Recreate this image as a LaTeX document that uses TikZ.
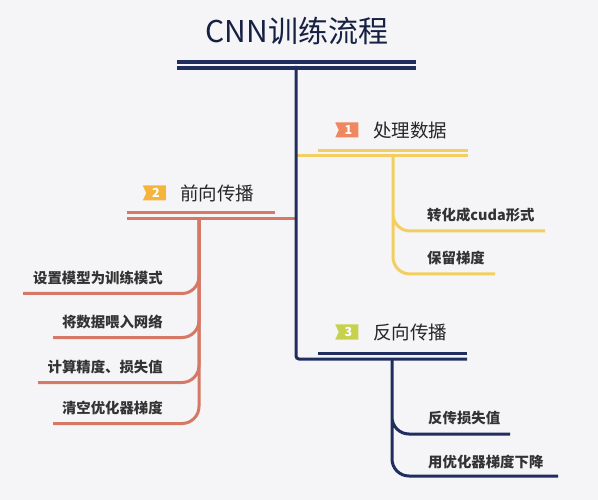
\documentclass[tikz,border=0pt]{standalone}
\usepackage{fontspec}
\setmainfont{Noto Sans CJK SC}
\tikzset{>=latex}
\usetikzlibrary{shapes.symbols}
\definecolor{grund}{HTML}{F5F5F7}
\definecolor{navy}{HTML}{1F2E5E}
\definecolor{gelb}{HTML}{F2CF60}
\definecolor{rot}{HTML}{D67866}
\definecolor{nrA}{HTML}{F0875E}
\definecolor{nrB}{HTML}{F5B53C}
\definecolor{nrC}{HTML}{C6D24E}
\definecolor{schrift}{HTML}{333333}

\begin{document}
\begin{tikzpicture}[x=1pt,y=-1pt,
	ast/.style={line width=3pt},
	haupt/.style={font=\fontsize{18.5}{20}\selectfont,text=black!85,inner sep=0pt,anchor=west},
	punkt/.style={font=\bfseries\fontsize{14.4}{16}\selectfont,text=schrift,inner sep=0pt},
	marke/.style={signal,signal from=west,signal to=nowhere,signal pointer angle=130,
		minimum width=23pt,minimum height=15pt,inner sep=0pt,text=white,
		font=\bfseries\fontsize{12.5}{13}\selectfont}]
	\fill[grund] (0,0) rectangle (598,500);
	\useasboundingbox (0,0) rectangle (598,500);
	% titel
	\node (titel) at(297,31)[font=\fontsize{30}{32}\selectfont,text=navy!70!black]{CNN训练流程};
	\coordinate (tl) at(177,62); \coordinate (tr) at(416,62);
	\draw[navy,line width=3.5pt] (tl)--(tr) ([yshift=-6pt]tl)--([yshift=-6pt]tr);
	\coordinate (wurzel) at(296,66);
	% 1 verarbeiten
	\node (m1) at(348.5,130)[marke,fill=nrA]{1};
	\node (h1) at(373,130)[haupt]{处理数据};
	\coordinate (a1) at(296,156); \coordinate (a1r) at(468,156); \coordinate (a1l) at(318,151);
	\draw[gelb,ast] (a1)--(a1r) (a1l)--(a1r|-a1l);
	\coordinate (s1) at(393,156);
	\node (p11) at(427,215)[punkt,anchor=west]{转化成cuda形式};
	\node (p12) at(427,258)[punkt,anchor=west]{保留梯度};
	\coordinate (u11) at(545,231); \coordinate (u12) at(495,274);
	\draw[gelb,ast,rounded corners=17] (s1)|-(u11) (s1)|-(u12);
	% 2 vorwaerts
	\node (m2) at(156,193)[marke,fill=nrB]{2};
	\node (h2) at(180,193)[haupt]{前向传播};
	\coordinate (a2) at(296,219); \coordinate (a2l) at(127,219); \coordinate (a2o) at(275,213);
	\draw[rot,ast] (a2)--(a2l) (a2l|-a2o)--(a2o);
	\coordinate (s2) at(199,219);
	\foreach \t/\y/\x [count=\i] in {设置模型为训练模式/278/23,将数据喂入网络/322/53,计算精度、损失值/367/38,清空优化器梯度/408/53}{
		\node (p2\i) at(163,\y)[punkt,anchor=east]{\t};
		\coordinate (u2\i) at(\x,\y+15.5);
		\draw[rot,ast,rounded corners=17] (s2)|-(u2\i);
	}
	% 3 rueckwaerts
	\node (m3) at(348.5,332)[marke,fill=nrC]{3};
	\node (h3) at(373,332)[haupt]{反向传播};
	\coordinate (a3r) at(467,359); \coordinate (a3l) at(318,353.5);
	\draw[navy,ast,rounded corners=3] (wurzel)|-(a3r);
	\draw[navy,ast] (a3l)--(a3r|-a3l);
	\coordinate (s3) at(392,359);
	\node (p31) at(428,418)[punkt,anchor=west]{反传损失值};
	\node (p32) at(428,462)[punkt,anchor=west]{用优化器梯度下降};
	\coordinate (u31) at(510,434); \coordinate (u32) at(558,476);
	\draw[navy,ast,rounded corners=17] (s3)|-(u31) (s3)|-(u32);
\end{tikzpicture}
\end{document}
